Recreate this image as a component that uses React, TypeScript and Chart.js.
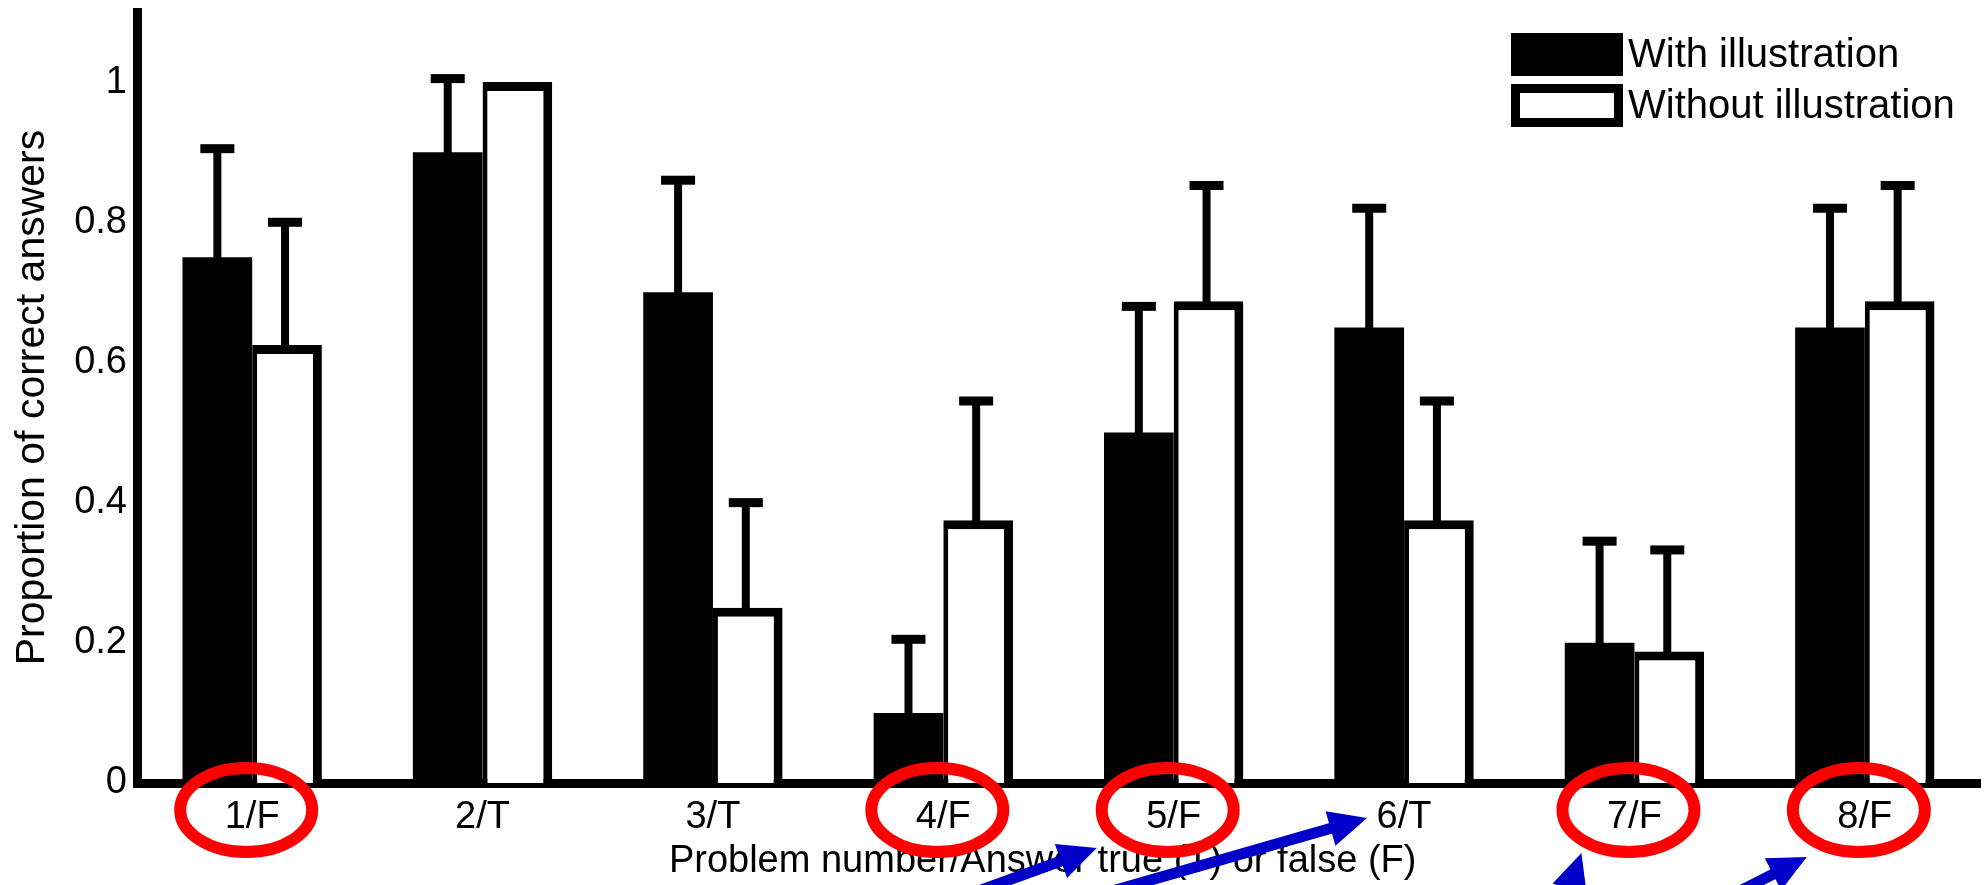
import React, { useEffect, useRef } from 'react';
import { Chart, registerables } from 'chart.js';

Chart.register(...registerables);

// ---- Data ----
const categories = ['1/F', '2/T', '3/T', '4/F', '5/F', '6/T', '7/F', '8/F'];
const seriesLabels = ['With illustration', 'Without illustration'];
const withIllustration = [0.75, 0.9, 0.7, 0.1, 0.5, 0.65, 0.2, 0.65];
const withoutIllustration = [0.625, 1.0, 0.25, 0.375, 0.6875, 0.375, 0.1875, 0.6875];
const withError = [0.155, 0.105, 0.16, 0.105, 0.18, 0.17, 0.145, 0.17];
const withoutError = [0.175, null, 0.15, 0.17, 0.165, 0.17, 0.145, 0.165];
const yTickValues = [0, 0.2, 0.4, 0.6, 0.8, 1];
const yTickLabels = ['0', '0.2', '0.4', '0.6', '0.8', '1'];
const circledCategories = ['1/F', '4/F', '5/F', '7/F', '8/F'];
const arrowTargets = ['5/F', '6/T', '7/F', '8/F'];

const FONT = "'Liberation Sans', Arial, Helvetica, sans-serif";

const errorBarPlugin = {
  id: 'errorBars',
  afterDatasetsDraw(chart: any) {
    const ctx = chart.ctx;
    const y = chart.scales.y;
    const errs = [withError, withoutError];
    chart.data.datasets.forEach((ds: any, di: number) => {
      const meta = chart.getDatasetMeta(di);
      meta.data.forEach((bar: any, i: number) => {
        const e = errs[di][i];
        if (e == null) return;
        const v = ds.data[i];
        const top = y.getPixelForValue(v + e);
        const x = bar.x - (di === 1 ? 2 : 0);
        ctx.save();
        ctx.fillStyle = '#000';
        ctx.fillRect(x - 4, top, 8, bar.y - top + 5);
        ctx.fillRect(x - 17, top - 4.5, 34, 9);
        ctx.restore();
      });
    });
  },
};

const legendPlugin = {
  id: 'boxLegend',
  afterDraw(chart: any) {
    const ctx = chart.ctx;
    const area = chart.chartArea;
    const boxX = area.right - 469;
    const rowTops = [area.top + 21, area.top + 72];
    const bw = 112;
    const bh = 43;
    ctx.save();
    chart.data.datasets.forEach((ds: any, i: number) => {
      const t = rowTops[i];
      ctx.fillStyle = '#000';
      ctx.fillRect(boxX, t, bw, bh);
      if (ds.backgroundColor !== '#000000') {
        ctx.fillStyle = ds.backgroundColor;
        ctx.fillRect(boxX + 9, t + 9, bw - 18, bh - 18);
      }
      ctx.fillStyle = '#000';
      ctx.font = `40px ${FONT}`;
      ctx.textAlign = 'left';
      ctx.textBaseline = 'middle';
      ctx.fillText(ds.label, boxX + 117, t + bh / 2 + 1);
    });
    ctx.restore();
  },
};

const annotationPlugin = {
  id: 'annotations',
  afterDraw(chart: any) {
    const ctx = chart.ctx;
    const xs = chart.scales.x;
    const base = xs.top;
    ctx.save();
    // red ellipses around the false-answer labels
    ctx.strokeStyle = '#ff0000';
    ctx.lineWidth = 12;
    circledCategories.forEach((c) => {
      const idx = categories.indexOf(c);
      const cx = xs.getPixelForValue(idx) - 6;
      const cy = base + 27;
      ctx.beginPath();
      ctx.ellipse(cx, cy, 66, 42, 0, 0, Math.PI * 2);
      ctx.stroke();
    });
    // blue arrows
    const geo = [
      { dx: -77, dy: 65, ang: -20 },
      { dx: -37, dy: 35, ang: -16 },
      { dx: -53, dy: 70, ang: -72 },
      { dx: -58, dy: 74, ang: -27 },
    ];
    ctx.fillStyle = '#0000c8';
    ctx.strokeStyle = '#0000c8';
    arrowTargets.forEach((c, k) => {
      const idx = categories.indexOf(c);
      const g = geo[k];
      const tx = xs.getPixelForValue(idx) + g.dx;
      const ty = base + g.dy;
      const a = (g.ang * Math.PI) / 180;
      const ux = Math.cos(a);
      const uy = Math.sin(a);
      const nx = -uy;
      const ny = ux;
      const L = 38;
      const W = 36;
      ctx.lineWidth = 11;
      ctx.beginPath();
      ctx.moveTo(tx - ux * 400, ty - uy * 400);
      ctx.lineTo(tx - ux * L * 0.7, ty - uy * L * 0.7);
      ctx.stroke();
      ctx.beginPath();
      ctx.moveTo(tx, ty);
      ctx.lineTo(tx - ux * L + (nx * W) / 2, ty - uy * L + (ny * W) / 2);
      ctx.lineTo(tx - ux * L - (nx * W) / 2, ty - uy * L - (ny * W) / 2);
      ctx.closePath();
      ctx.fill();
    });
    ctx.restore();
  },
};

export default function App() {
  const ref = useRef<HTMLCanvasElement | null>(null);
  useEffect(() => {
    if (!ref.current) return;
    const chart = new Chart(ref.current, {
      type: 'bar',
      data: {
        labels: categories,
        datasets: [
          {
            label: seriesLabels[0],
            data: withIllustration,
            backgroundColor: '#000000',
            borderColor: '#000000',
            borderWidth: 0,
          },
          {
            label: seriesLabels[1],
            data: withoutIllustration,
            backgroundColor: '#ffffff',
            borderColor: '#000000',
            borderWidth: { left: 5, top: 9, right: 9, bottom: 0 },
            borderSkipped: false,
          },
        ],
      },
      options: {
        responsive: false,
        animation: false,
        devicePixelRatio: 1,
        layout: { padding: { left: 0, right: 8, top: 12, bottom: 0 } },
        datasets: {
          bar: { categoryPercentage: 0.605, barPercentage: 1.0 },
        },
        plugins: {
          legend: { display: false },
          tooltip: { enabled: false },
        },
        scales: {
          x: {
            type: 'category',
            z: 1,
            grid: { display: false, drawTicks: false },
            border: { display: true, color: '#000', width: 9 },
            ticks: {
              color: '#000',
              font: { family: FONT, size: 38 },
              padding: 12,
              maxRotation: 0,
              autoSkip: false,
            },
            title: {
              display: true,
              text: 'Problem number/Answer true (T) or false (F)   ',
              color: '#000',
              font: { family: FONT, size: 38 },
              padding: { top: 0, bottom: 1 },
            },
            afterFit(scale: any) {
              scale.height = 102;
              scale.paddingLeft = 0;
              scale.paddingRight = 0;
            },
          },
          y: {
            type: 'linear',
            z: 1,
            min: 0,
            max: 1.1,
            grid: { display: false, drawTicks: false },
            border: { display: true, color: '#000', width: 9 },
            afterBuildTicks(scale: any) {
              scale.ticks = yTickValues.map((v) => ({ value: v }));
            },
            ticks: {
              color: '#000',
              font: { family: FONT, size: 38 },
              padding: 10,
              callback: (v: any) => {
                const i = yTickValues.findIndex((t) => Math.abs(t - Number(v)) < 1e-9);
                return i >= 0 ? yTickLabels[i] : '';
              },
            },
            title: {
              display: true,
              text: 'Proportion of correct answers',
              color: '#000',
              font: { family: FONT, size: 41 },
              padding: { top: 8, bottom: 0 },
            },
            afterFit(scale: any) {
              scale.width = 137;
              scale.paddingTop = 0;
              scale.paddingBottom = 0;
            },
          },
        },
      },
      plugins: [errorBarPlugin, legendPlugin, annotationPlugin],
    } as any);
    return () => chart.destroy();
  }, []);
  return (
    <div style={{ position: 'absolute', left: 0, top: 0, width: 1988, height: 885, background: '#fff' }}>
      <canvas ref={ref} width={1988} height={885} style={{ display: 'block', width: 1988, height: 885 }} />
    </div>
  );
}
